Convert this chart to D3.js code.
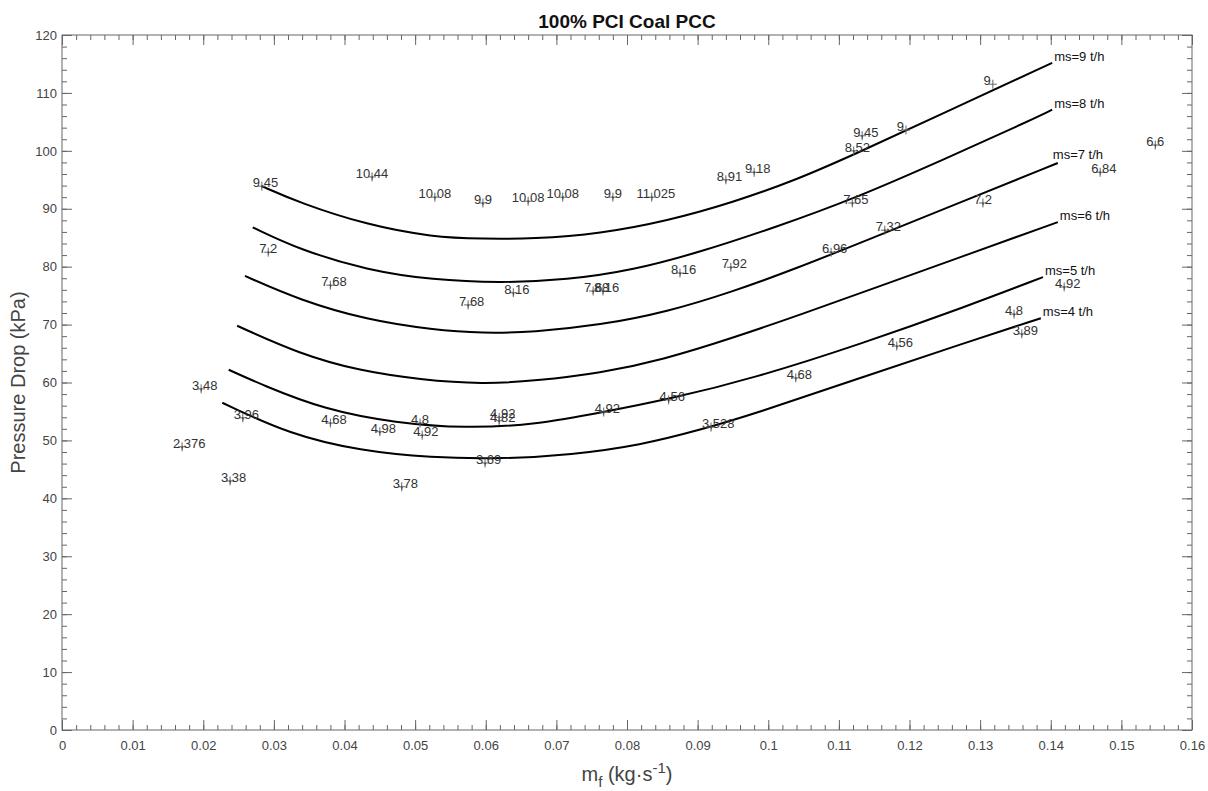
<!DOCTYPE html>
<html><head><meta charset="utf-8">
<script src="https://cdn.jsdelivr.net/npm/d3@7"></script>
<style>body{margin:0;background:#fff} svg{display:block}</style>
</head><body>
<svg id="chart" width="1208" height="791"></svg>
<script>
// ---------- data ----------
const title = "100% PCI Coal PCC";
const xTicks = [0,0.01,0.02,0.03,0.04,0.05,0.06,0.07,0.08,0.09,0.1,0.11,0.12,0.13,0.14,0.15,0.16];
const yTicks = [0,10,20,30,40,50,60,70,80,90,100,110,120];
const curveLabels = ["ms=4 t/h","ms=5 t/h","ms=6 t/h","ms=7 t/h","ms=8 t/h","ms=9 t/h"];

const ms4X = [0.0227,0.0323,0.0423,0.0522,0.0622,0.0721,0.0820,0.0903,0.0981,0.1130,0.1280,0.1386];
const ms4Y = [56.5,51.0,48.2,47.0,46.8,47.5,49.2,51.8,54.6,60.8,66.9,71.1];
const ms5X = [0.0236,0.0283,0.0372,0.0473,0.0572,0.0670,0.0767,0.0859,0.0981,0.1130,0.1280,0.1389];
const ms5Y = [62.2,59.6,55.3,53.0,52.1,52.7,54.9,57.1,60.8,66.6,73.1,78.2];
const ms6X = [0.0248,0.0337,0.0422,0.0507,0.0596,0.0671,0.0762,0.0850,0.0950,0.1050,0.1150,0.1280,0.1410];
const ms6Y = [69.8,64.9,62.0,60.5,59.7,60.3,61.6,63.9,67.7,71.9,76.3,82.0,87.7];
const ms7X = [0.0259,0.0337,0.0432,0.0525,0.0596,0.0667,0.0762,0.0857,0.0950,0.1040,0.1140,0.1260,0.1410];
const ms7Y = [78.4,74.2,70.8,69.1,68.5,68.7,69.9,72.2,75.7,79.7,84.6,90.5,97.9];
const ms8X = [0.0270,0.0337,0.0432,0.0525,0.0620,0.0715,0.0809,0.0903,0.1010,0.1121,0.1252,0.1361,0.1402];
const ms8Y = [86.8,82.9,79.4,77.7,77.2,77.7,79.4,82.5,86.8,91.7,98.7,104.7,107.1];
const ms9X = [0.0283,0.0337,0.0432,0.0525,0.0596,0.0667,0.0762,0.0857,0.0950,0.1040,0.1124,0.1250,0.1402];
const ms9Y = [93.9,91.0,87.2,85.1,84.8,84.8,85.7,87.9,91.1,95.0,99.5,106.6,115.2];

const pointX = [0.0283,0.0439,0.0528,0.0596,0.0660,0.0709,0.0780,0.0835,0.0940,0.0980,0.1133,0.1121,0.1195,0.1318,0.1548,0.1470,
  0.1304,0.1119,0.1165,0.1089,0.0947,0.0875,0.0292,0.0380,0.0575,0.0639,0.0752,0.0766,
  0.0197,0.0256,0.0170,0.0238,0.0380,0.0450,0.0507,0.0510,0.0619,0.0619,0.0767,0.0859,0.0599,0.0481,0.0919,0.1039,0.1182,0.1348,0.1359,0.1419];
const pointY = [93.9,95.5,92.0,91.0,91.3,92.0,92.0,92.0,95.0,96.3,102.6,100.0,103.6,111.5,101.0,96.3,
  91.0,91.0,86.3,82.5,79.9,78.9,82.5,76.8,73.4,75.5,75.8,75.8,
  58.9,53.9,48.9,43.0,53.0,51.5,53.0,50.9,54.0,53.4,54.9,57.0,46.1,42.0,52.3,60.8,66.3,71.8,68.4,76.5];
const pointValue = [9.45,10.44,10.08,9.9,10.08,10.08,9.9,11.025,8.91,9.18,9.45,8.52,9,9,6.6,6.84,
  7.2,7.65,7.32,6.96,7.92,8.16,7.2,7.68,7.68,8.16,7.68,8.16,
  3.48,3.96,2.376,3.38,4.68,4.98,4.8,4.92,4.92,4.82,4.92,4.56,3.69,3.78,3.528,4.68,4.56,4.8,3.89,4.92];

// ---------- layout ----------
const svg = d3.select("#chart");
const L = 62, R = 1192, T = 35, B = 730;
const FONT = "'Liberation Sans', Arial, Helvetica, sans-serif";
const x = d3.scaleLinear().domain([0, 0.16]).range([L, R]);
const y = d3.scaleLinear().domain([0, 120]).range([B, T]);
const axisColor = "#666";

svg.append("rect").attr("width",1208).attr("height",791).attr("fill","#fff");

function styleAxis(g, labels) {
  g.select(".domain").remove();
  g.selectAll(".tick line").attr("stroke", axisColor).attr("stroke-width", 1);
  g.selectAll(".tick text").attr("fill", "#444").style("font-family", FONT).style("font-size", "13px");
  if (!labels) g.selectAll(".tick text").remove();
}
const fmtX = d => String(+d.toFixed(2));

// minor ticks
const xMinor = x.ticks(80), yMinor = y.ticks(60);
svg.append("g").attr("transform",`translate(0,${B})`).call(d3.axisBottom(x).tickValues(xMinor).tickSize(-5).tickFormat("")).call(g=>styleAxis(g,false));
svg.append("g").attr("transform",`translate(0,${T})`).call(d3.axisTop(x).tickValues(xMinor).tickSize(-5).tickFormat("")).call(g=>styleAxis(g,false));
svg.append("g").attr("transform",`translate(${L},0)`).call(d3.axisLeft(y).tickValues(yMinor).tickSize(-5).tickFormat("")).call(g=>styleAxis(g,false));
svg.append("g").attr("transform",`translate(${R},0)`).call(d3.axisRight(y).tickValues(yMinor).tickSize(-5).tickFormat("")).call(g=>styleAxis(g,false));
// major ticks
svg.append("g").attr("transform",`translate(0,${B})`).call(d3.axisBottom(x).tickValues(xTicks).tickSize(-10).tickPadding(11).tickFormat(fmtX)).call(g=>styleAxis(g,true));
svg.append("g").attr("transform",`translate(0,${T})`).call(d3.axisTop(x).tickValues(xTicks).tickSize(-10).tickFormat("")).call(g=>styleAxis(g,false));
svg.append("g").attr("transform",`translate(${L},0)`).call(d3.axisLeft(y).tickValues(yTicks).tickSize(-10).tickPadding(5).tickFormat(d3.format("d"))).call(g=>styleAxis(g,true));
svg.append("g").attr("transform",`translate(${R},0)`).call(d3.axisRight(y).tickValues(yTicks).tickSize(-10).tickFormat("")).call(g=>styleAxis(g,false));

// frame
svg.append("rect").attr("x",L).attr("y",T).attr("width",R-L).attr("height",B-T)
  .attr("fill","none").attr("stroke",axisColor).attr("stroke-width",1);

// curves
const curves = [[ms4X,ms4Y],[ms5X,ms5Y],[ms6X,ms6Y],[ms7X,ms7Y],[ms8X,ms8Y],[ms9X,ms9Y]];
const line = d3.line().x(d=>x(d[0])).y(d=>y(d[1])).curve(d3.curveBasis);
curves.forEach((c, i) => {
  const pts = c[0].map((v, j) => [v, c[1][j]]);
  svg.append("path").attr("d", line(pts)).attr("fill","none").attr("stroke","#000").attr("stroke-width",2);
  const last = pts[pts.length-1];
  const dx = i === 3 ? -5 : 2, dy = i === 3 ? -4 : -2;
  svg.append("text").attr("x", x(last[0]) + dx).attr("y", y(last[1]) + dy)
    .style("font-family", FONT).style("font-size","13px").attr("fill","#111").text(curveLabels[i]);
});

// points with labels
const pg = svg.append("g");
pointX.forEach((px, i) => {
  const cx = x(px), cy = y(pointY[i]);
  pg.append("path").attr("d", `M${cx-4},${cy}H${cx+4}M${cx},${cy-4.5}V${cy+4.5}`)
    .attr("stroke","#666").attr("stroke-width",1).attr("fill","none");
  const str = String(pointValue[i]).replace(".", ",");
  const t = pg.append("text").attr("y", cy + 1).style("font-family", FONT).style("font-size","13px")
    .attr("fill","#333").text(str);
  const ci = str.indexOf(",");
  const n = ci < 0 ? str.length : ci;
  const node = t.node();
  const w = node.getSubStringLength(0, n);
  const cw = ci < 0 ? 0 : node.getSubStringLength(ci, 1);
  t.attr("x", ci < 0 ? cx - w - 2 : cx - w - cw / 2);
});

// title and axis labels
svg.append("text").attr("x", (L+R)/2).attr("y", 28).attr("text-anchor","middle")
  .style("font-family", FONT).style("font-size","19px").style("font-weight","bold").attr("fill","#111").text(title);

svg.append("text").attr("transform", `translate(25,${(T+B)/2}) rotate(-90)`).attr("text-anchor","middle")
  .style("font-family", FONT).style("font-size","20px").attr("fill","#444").text("Pressure Drop (kPa)");

const xl = svg.append("text").attr("x", (L+R)/2).attr("y", 781).attr("text-anchor","middle")
  .style("font-family", FONT).style("font-size","20px").attr("fill","#444");
xl.append("tspan").text("m");
xl.append("tspan").attr("dy", 6).style("font-size","15px").text("f");
xl.append("tspan").attr("dy", -6).text(" (kg·s");
xl.append("tspan").attr("dy", -8).style("font-size","15px").text("-1");
xl.append("tspan").attr("dy", 8).text(")");
</script>
</body></html>
